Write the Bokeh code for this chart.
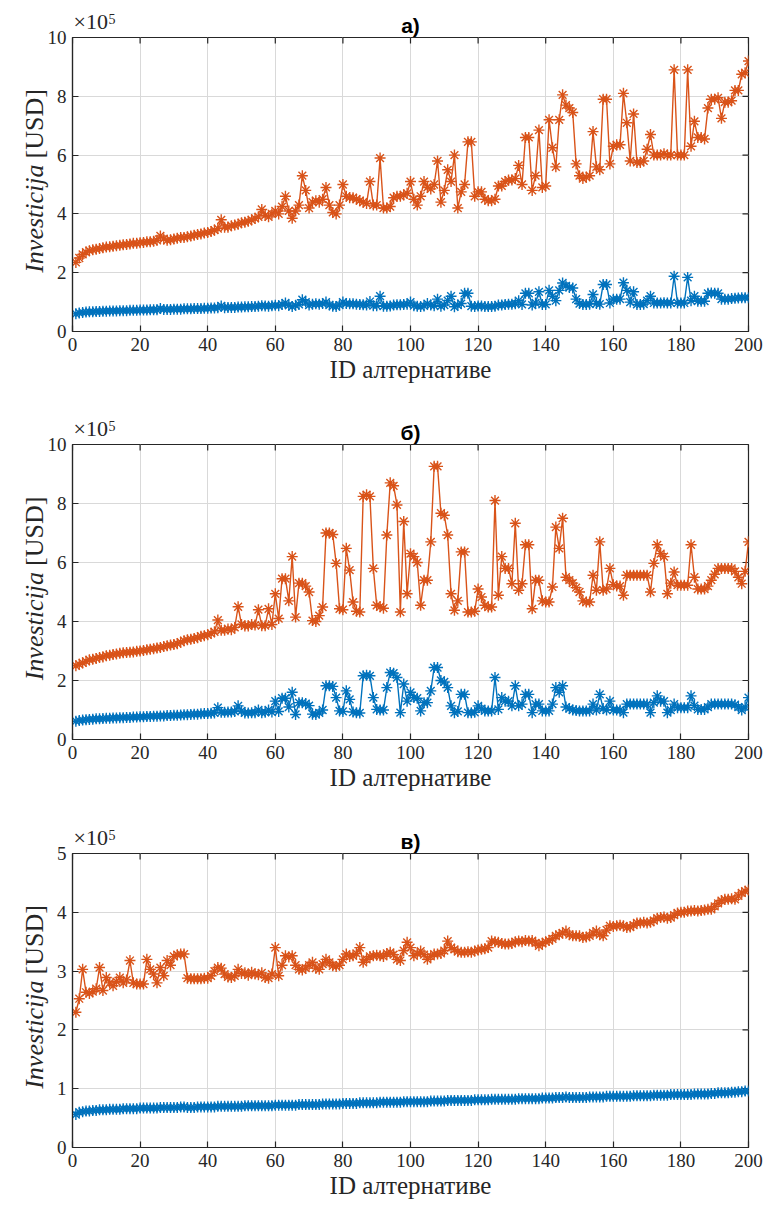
import math
from bokeh.plotting import figure
from bokeh.layouts import column
from bokeh.models import Range1d, FixedTicker
from bokeh.core.properties import value
from bokeh.embed import file_html
from bokeh.resources import INLINE

ids = list(range(1, 201))

a_hi = [
    2.35, 2.5, 2.62, 2.7, 2.75, 2.78, 2.8, 2.82, 2.85, 2.87,
    2.88, 2.9, 2.92, 2.93, 2.95, 2.96, 2.98, 3.0, 3.0, 3.02,
    3.03, 3.05, 3.05, 3.07, 3.1, 3.25, 3.15, 3.1, 3.12, 3.15,
    3.17, 3.2, 3.2, 3.22, 3.25, 3.27, 3.3, 3.32, 3.35, 3.37,
    3.4, 3.45, 3.5, 3.8, 3.55, 3.55, 3.6, 3.62, 3.65, 3.7,
    3.72, 3.75, 3.8, 3.85, 3.9, 4.15, 3.95, 3.9, 4.0, 4.1,
    4.0, 4.25, 4.6, 4.1, 3.85, 4.1, 4.3, 5.3, 4.8, 4.2,
    4.4, 4.45, 4.4, 4.5, 4.9, 4.3, 4.05, 4.0, 4.3, 5.0,
    4.6, 4.55, 4.55, 4.5, 4.45, 4.4, 4.35, 5.1, 4.3, 4.3,
    5.9, 4.2, 4.2, 4.25, 4.55, 4.6, 4.6, 4.65, 4.7, 5.1,
    4.5, 4.3, 4.6, 5.1, 4.9, 4.85, 5.0, 5.8, 4.4, 4.8,
    5.5, 5.1, 6.0, 4.2, 4.75, 5.0, 6.45, 6.45, 4.6, 4.75,
    4.75, 4.5, 4.45, 4.45, 4.5, 4.95, 4.95, 5.1, 5.15, 5.15,
    5.2, 5.65, 5.0, 6.6, 6.6, 4.8, 5.3, 6.85, 4.9, 4.95,
    7.2, 6.25, 5.6, 7.2, 8.05, 7.7, 7.6, 7.45, 5.7, 5.3,
    5.2, 5.25, 5.3, 6.8, 5.6, 5.5, 7.9, 7.9, 5.7, 6.3,
    6.35, 6.35, 8.1, 7.1, 5.8, 7.4, 5.75, 5.75, 5.8, 6.2,
    6.7, 6.0, 6.0, 6.0, 6.05, 6.0, 6.0, 8.9, 6.0, 6.0,
    6.0, 8.9, 6.3, 7.15, 6.6, 6.6, 6.55, 7.6, 7.9, 7.9,
    7.95, 7.25, 7.8, 7.8, 7.85, 8.2, 8.2, 8.75, 8.8, 9.2,
]
a_lo = [
    0.6, 0.63, 0.65, 0.66, 0.67, 0.67, 0.68, 0.68, 0.69, 0.69,
    0.7, 0.7, 0.7, 0.71, 0.71, 0.71, 0.72, 0.72, 0.72, 0.73,
    0.73, 0.73, 0.74, 0.74, 0.74, 0.78, 0.75, 0.75, 0.75, 0.76,
    0.76, 0.76, 0.77, 0.77, 0.77, 0.78, 0.78, 0.78, 0.79, 0.79,
    0.8, 0.8, 0.81, 0.87, 0.81, 0.82, 0.82, 0.82, 0.83, 0.83,
    0.84, 0.84, 0.85, 0.85, 0.86, 0.88, 0.87, 0.86, 0.88, 0.89,
    0.88, 0.92, 0.97, 0.89, 0.85, 0.89, 0.92, 1.08, 1.0, 0.9,
    0.93, 0.94, 0.93, 0.95, 1.0, 0.9, 0.86, 0.85, 0.9, 1.0,
    0.95, 0.94, 0.94, 0.93, 0.92, 0.91, 0.9, 1.02, 0.88, 0.88,
    1.2, 0.86, 0.86, 0.87, 0.9, 0.91, 0.91, 0.92, 0.93, 1.0,
    0.88, 0.86, 0.85, 0.87, 0.95, 0.9, 0.88, 1.1, 0.86, 0.9,
    1.05, 1.2, 0.84, 0.9, 0.95, 1.3, 1.3, 0.86, 0.85, 0.87,
    0.87, 0.85, 0.85, 0.85, 0.86, 0.9, 0.9, 0.92, 0.93, 0.93,
    0.94, 1.05, 0.92, 1.3, 1.3, 0.9, 0.97, 1.35, 0.92, 0.92,
    1.4, 1.2, 1.05, 1.4, 1.65, 1.55, 1.5, 1.48, 1.1, 0.95,
    0.92, 0.92, 0.93, 1.26, 0.95, 0.93, 1.6, 1.6, 0.97, 1.1,
    1.1, 1.1, 1.66, 1.4, 1.0, 1.35, 0.92, 0.92, 0.93, 1.05,
    1.2, 0.97, 0.97, 0.97, 0.98, 0.97, 0.97, 1.88, 0.97, 0.97,
    0.97, 1.84, 1.05, 1.2, 1.03, 1.03, 1.03, 1.3, 1.31, 1.3,
    1.3, 1.1, 1.1, 1.1, 1.12, 1.13, 1.14, 1.15, 1.15, 1.15,
]
b_hi = [
    2.5, 2.55, 2.6, 2.65, 2.7, 2.72, 2.75, 2.78, 2.8, 2.84,
    2.86, 2.88, 2.9, 2.92, 2.94, 2.95, 2.96, 2.97, 2.99, 3.0,
    3.02, 3.04, 3.06, 3.08, 3.1, 3.12, 3.15, 3.18, 3.2, 3.22,
    3.25, 3.3, 3.35, 3.38, 3.4, 3.42, 3.45, 3.5, 3.52, 3.55,
    3.6, 3.65, 4.05, 3.7, 3.7, 3.75, 3.72, 3.8, 4.5, 3.9,
    3.85, 3.85, 3.9, 3.88, 4.4, 3.86, 3.86, 4.43, 3.9, 4.94,
    4.1, 5.45, 5.45, 4.7, 6.2, 4.15, 5.3, 5.3, 5.2, 5.0,
    4.03, 4.0, 4.2, 4.49, 7.0, 7.0, 6.95, 5.97, 4.43, 4.4,
    6.48, 5.74, 4.66, 4.35, 4.32, 8.24, 8.3, 8.24, 5.8, 4.55,
    4.5, 4.45, 6.93, 8.7, 8.6, 7.95, 4.32, 7.39, 4.94, 6.3,
    6.2, 6.0, 4.55, 5.4, 5.4, 6.7, 9.26, 9.26, 7.67, 7.6,
    6.93, 4.94, 4.38, 4.7, 6.36, 6.36, 4.32, 4.32, 4.35, 5.1,
    4.83, 4.55, 4.49, 4.49, 8.1, 4.89, 6.2, 5.8, 5.8, 5.28,
    7.33, 5.06, 5.28, 6.6, 6.6, 4.43, 5.4, 5.4, 4.7, 4.66,
    4.66, 5.17, 7.2, 6.48, 7.5, 5.5, 5.4, 5.3, 5.15, 5.0,
    4.7, 4.66, 4.66, 5.57, 5.06, 6.7, 5.06, 5.1, 5.8, 5.25,
    5.2, 5.2, 4.89, 5.57, 5.57, 5.57, 5.57, 5.57, 5.57, 5.57,
    5.0, 5.97, 6.6, 6.3, 6.2, 4.94, 5.3, 5.68, 5.23, 5.23,
    5.23, 5.23, 6.6, 5.5, 5.1, 5.1, 5.1, 5.2, 5.4, 5.6,
    5.8, 5.8, 5.8, 5.8, 5.8, 5.7, 5.5, 5.28, 5.7, 6.7,
]
b_lo = [
    0.62, 0.64, 0.66, 0.67, 0.68, 0.69, 0.7, 0.7, 0.71, 0.72,
    0.72, 0.73, 0.73, 0.74, 0.74, 0.75, 0.75, 0.76, 0.76, 0.77,
    0.77, 0.78, 0.78, 0.79, 0.79, 0.8, 0.8, 0.81, 0.81, 0.82,
    0.82, 0.83, 0.84, 0.84, 0.85, 0.86, 0.86, 0.87, 0.88, 0.88,
    0.89, 0.9, 1.08, 0.92, 0.92, 0.93, 0.93, 0.95, 1.14, 0.97,
    0.9, 0.9, 0.91, 0.91, 1.0, 0.91, 0.92, 1.0, 0.93, 1.3,
    0.95, 1.4, 1.4, 1.1, 1.6, 0.85, 1.25, 1.25, 1.22, 1.15,
    0.86, 0.85, 0.9, 1.0, 1.82, 1.82, 1.8, 1.42, 0.97, 0.95,
    1.65, 1.36, 0.93, 0.91, 0.9, 2.16, 2.18, 2.16, 1.42, 1.02,
    1.0, 1.0, 1.76, 2.27, 2.25, 2.1, 0.91, 1.88, 1.3, 1.6,
    1.42, 1.4, 0.97, 1.25, 1.25, 1.65, 2.44, 2.44, 2.0, 1.95,
    1.76, 1.14, 0.91, 0.95, 1.53, 1.53, 0.91, 0.91, 0.92, 1.14,
    1.05, 0.97, 0.97, 0.97, 2.1, 1.02, 1.42, 1.3, 1.3, 1.14,
    1.82, 1.14, 1.2, 1.53, 1.53, 0.91, 1.2, 1.2, 0.97, 0.97,
    0.97, 1.2, 1.76, 1.6, 1.82, 1.1, 1.05, 1.0, 0.98, 0.97,
    0.97, 0.97, 0.97, 1.2, 1.0, 1.53, 1.05, 1.0, 1.3, 1.0,
    1.0, 1.0, 0.91, 1.2, 1.2, 1.2, 1.2, 1.2, 1.2, 1.2,
    0.91, 1.25, 1.48, 1.3, 1.3, 0.91, 1.0, 1.2, 1.08, 1.08,
    1.08, 1.08, 1.48, 1.15, 1.02, 1.02, 1.02, 1.1, 1.2, 1.2,
    1.2, 1.2, 1.2, 1.2, 1.2, 1.18, 1.1, 1.0, 1.1, 1.42,
]
c_hi = [
    2.3, 2.53, 3.03, 2.64, 2.62, 2.65, 2.7, 3.06, 2.67, 2.89,
    2.8, 2.75, 2.82, 2.89, 2.8, 2.85, 3.18, 2.8, 2.78, 2.78,
    2.78, 3.2, 3.03, 2.95, 2.8, 3.06, 2.92, 3.18, 3.1, 3.25,
    3.28, 3.29, 3.29, 2.88, 2.87, 2.87, 2.87, 2.87, 2.88, 2.88,
    2.92, 3.0, 3.06, 3.05, 2.95, 2.9, 2.89, 2.92, 3.03, 2.96,
    2.97, 2.93, 2.98, 2.95, 2.94, 2.97, 2.89, 2.88, 2.95, 3.4,
    2.92, 3.1, 3.26, 3.24, 3.26, 3.1, 3.03, 3.02, 3.05, 3.1,
    3.15, 3.05, 3.03, 3.12, 3.2, 3.15, 3.09, 3.08, 3.1, 3.2,
    3.29, 3.25, 3.26, 3.3, 3.4, 3.15, 3.2, 3.25, 3.26, 3.27,
    3.26, 3.25, 3.3, 3.32, 3.28, 3.2, 3.18, 3.35, 3.49, 3.4,
    3.26, 3.3, 3.34, 3.28, 3.2, 3.25, 3.29, 3.29, 3.3, 3.35,
    3.51, 3.4, 3.37, 3.33, 3.32, 3.32, 3.33, 3.32, 3.34, 3.36,
    3.37, 3.38, 3.4, 3.51, 3.5, 3.49, 3.47, 3.46, 3.46, 3.47,
    3.5, 3.51, 3.5, 3.52, 3.51, 3.52, 3.48, 3.43, 3.47, 3.5,
    3.52, 3.55, 3.6, 3.62, 3.65, 3.68, 3.62, 3.6, 3.6, 3.6,
    3.57, 3.58, 3.6, 3.65, 3.68, 3.62, 3.6, 3.7, 3.77, 3.76,
    3.77, 3.78, 3.77, 3.74, 3.75, 3.78, 3.82, 3.82, 3.83, 3.82,
    3.83, 3.86, 3.9, 3.91, 3.92, 3.9, 3.91, 3.95, 3.99, 4.0,
    4.0, 4.02, 4.02, 4.03, 4.02, 4.03, 4.04, 4.05, 4.05, 4.1,
    4.15, 4.2, 4.22, 4.22, 4.23, 4.22, 4.28, 4.33, 4.36, 4.38,
]
c_lo = [
    0.56, 0.6, 0.61, 0.62, 0.62, 0.63, 0.63, 0.64, 0.64, 0.64,
    0.65, 0.65, 0.65, 0.65, 0.66, 0.66, 0.66, 0.66, 0.66, 0.67,
    0.67, 0.67, 0.67, 0.67, 0.67, 0.68, 0.68, 0.68, 0.68, 0.68,
    0.68, 0.69, 0.69, 0.68, 0.68, 0.68, 0.69, 0.69, 0.69, 0.69,
    0.69, 0.69, 0.7, 0.7, 0.7, 0.7, 0.7, 0.7, 0.7, 0.7,
    0.71, 0.71, 0.71, 0.71, 0.71, 0.71, 0.71, 0.71, 0.71, 0.72,
    0.72, 0.72, 0.72, 0.72, 0.72, 0.72, 0.73, 0.73, 0.73, 0.73,
    0.73, 0.73, 0.73, 0.74, 0.74, 0.74, 0.74, 0.74, 0.74, 0.75,
    0.75, 0.75, 0.75, 0.75, 0.76, 0.76, 0.76, 0.76, 0.76, 0.76,
    0.77, 0.77, 0.77, 0.77, 0.77, 0.77, 0.77, 0.78, 0.78, 0.78,
    0.78, 0.78, 0.78, 0.78, 0.78, 0.79, 0.79, 0.79, 0.79, 0.79,
    0.8, 0.8, 0.8, 0.8, 0.8, 0.8, 0.8, 0.8, 0.81, 0.81,
    0.81, 0.81, 0.81, 0.82, 0.82, 0.82, 0.82, 0.82, 0.82, 0.82,
    0.82, 0.83, 0.83, 0.83, 0.83, 0.83, 0.83, 0.83, 0.84, 0.84,
    0.84, 0.84, 0.85, 0.85, 0.85, 0.86, 0.85, 0.85, 0.85, 0.85,
    0.85, 0.85, 0.86, 0.86, 0.86, 0.86, 0.86, 0.87, 0.87, 0.87,
    0.87, 0.87, 0.87, 0.87, 0.87, 0.88, 0.88, 0.88, 0.88, 0.88,
    0.88, 0.89, 0.89, 0.89, 0.89, 0.89, 0.9, 0.9, 0.9, 0.9,
    0.9, 0.9, 0.9, 0.91, 0.91, 0.91, 0.91, 0.91, 0.92, 0.92,
    0.93, 0.93, 0.93, 0.93, 0.94, 0.94, 0.95, 0.95, 0.96, 0.96,
]

x_ticks = [0, 20, 40, 60, 80, 100, 120, 140, 160, 180, 200]
y_ticks_10 = [0, 2, 4, 6, 8, 10]
y_ticks_5 = [0, 1, 2, 3, 4, 5]
panel_titles = ["а)", "б)", "в)"]
x_label = "ID алтернативе"
y_label_italic = "Investicija"
y_label_plain = "[USD]"
scale_text = "×10"
scale_exp = "5"

ORANGE = "#D95319"
BLUE = "#0072BD"
AX = "#262626"
SERIF = "Liberation Serif"
FRAME_W = 676
FRAME_H = 294
TICK = 6


def style_axis(ax, ticks):
    ax.ticker = FixedTicker(ticks=ticks)
    ax.axis_line_color = AX
    ax.axis_line_width = 1.2
    ax.major_tick_line_color = AX
    ax.major_tick_line_width = 1.2
    ax.major_tick_in = TICK
    ax.major_tick_out = 0
    ax.minor_tick_line_color = None
    ax.major_label_text_font = SERIF
    ax.major_label_text_color = AX
    ax.major_label_text_font_size = "19px"
    ax.major_label_standoff = 6


def outer_texts(p, ymax):
    p.text(x=[0], y=[ymax], text=[scale_text], x_offset=1, y_offset=-4, level="overlay",
           text_font=value(SERIF), text_font_size="22px", text_color=AX,
           text_baseline="bottom")
    p.text(x=[0], y=[ymax], text=[scale_exp], x_offset=36, y_offset=-14, level="overlay",
           text_font=value(SERIF), text_font_size="14px", text_color=AX,
           text_baseline="bottom")
    p.text(x=[0], y=[ymax / 2], text=[y_label_italic], x_offset=-38, y_offset=-20,
           angle=math.pi / 2, text_align="right", text_baseline="middle", level="overlay",
           text_font=value(SERIF), text_font_style="italic", text_font_size="26px",
           text_color=AX)
    p.text(x=[0], y=[ymax / 2], text=[y_label_plain], x_offset=-38, y_offset=-26,
           angle=math.pi / 2, text_align="left", text_baseline="middle", level="overlay",
           text_font=value(SERIF), text_font_size="26px", text_color=AX)


def make(title, hi, lo, ymax, yticks, height, bottom):
    p = figure(width=767, height=height,
               x_range=Range1d(0, 200), y_range=Range1d(0, ymax),
               output_backend="svg", toolbar_location=None,
               min_border_left=72, min_border_right=19,
               min_border_top=37, min_border_bottom=bottom)
    p.background_fill_color = "white"
    p.border_fill_color = "white"
    p.outline_line_color = AX
    p.outline_line_width = 1.2
    p.title.text = title
    p.title.align = "center"
    p.title.text_font = "Liberation Sans"
    p.title.text_font_style = "bold"
    p.title.text_font_size = "21px"
    p.title.text_color = "black"
    p.title.standoff = 2
    style_axis(p.xaxis[0], x_ticks)
    style_axis(p.yaxis[0], yticks)
    p.xaxis[0].axis_label = x_label
    p.xaxis[0].axis_label_text_font = SERIF
    p.xaxis[0].axis_label_text_font_style = "normal"
    p.xaxis[0].axis_label_text_font_size = "25px"
    p.xaxis[0].axis_label_text_color = AX
    p.xaxis[0].axis_label_standoff = 2
    p.xgrid.ticker = FixedTicker(ticks=x_ticks)
    p.ygrid.ticker = FixedTicker(ticks=yticks)
    for g in (p.xgrid[0], p.ygrid[0]):
        g.grid_line_color = "#D9D9D9"
        g.grid_line_width = 1

    dy = TICK * ymax / FRAME_H
    dx = TICK * 200 / FRAME_W
    p.segment(x0=x_ticks, y0=[ymax] * len(x_ticks), x1=x_ticks,
              y1=[ymax - dy] * len(x_ticks), line_color=AX, line_width=1.2)
    p.segment(x0=[200] * len(yticks), y0=yticks, x1=[200 - dx] * len(yticks),
              y1=yticks, line_color=AX, line_width=1.2)

    p.line(ids, lo, line_color=BLUE, line_width=1.4)
    p.scatter(ids, lo, marker="asterisk", size=11, line_color=BLUE, line_width=1.4)
    p.line(ids, hi, line_color=ORANGE, line_width=1.4)
    p.scatter(ids, hi, marker="asterisk", size=11, line_color=ORANGE, line_width=1.4)

    outer_texts(p, ymax)
    return p


pa = make(panel_titles[0], a_hi, a_lo, 10, y_ticks_10, 407, 76)
pb = make(panel_titles[1], b_hi, b_lo, 10, y_ticks_10, 409, 77)
pc = make(panel_titles[2], c_hi, c_lo, 5, y_ticks_5, 395, 64)

layout = column(pa, pb, pc, spacing=0)
open("out.html", "w").write(file_html(layout, INLINE))
